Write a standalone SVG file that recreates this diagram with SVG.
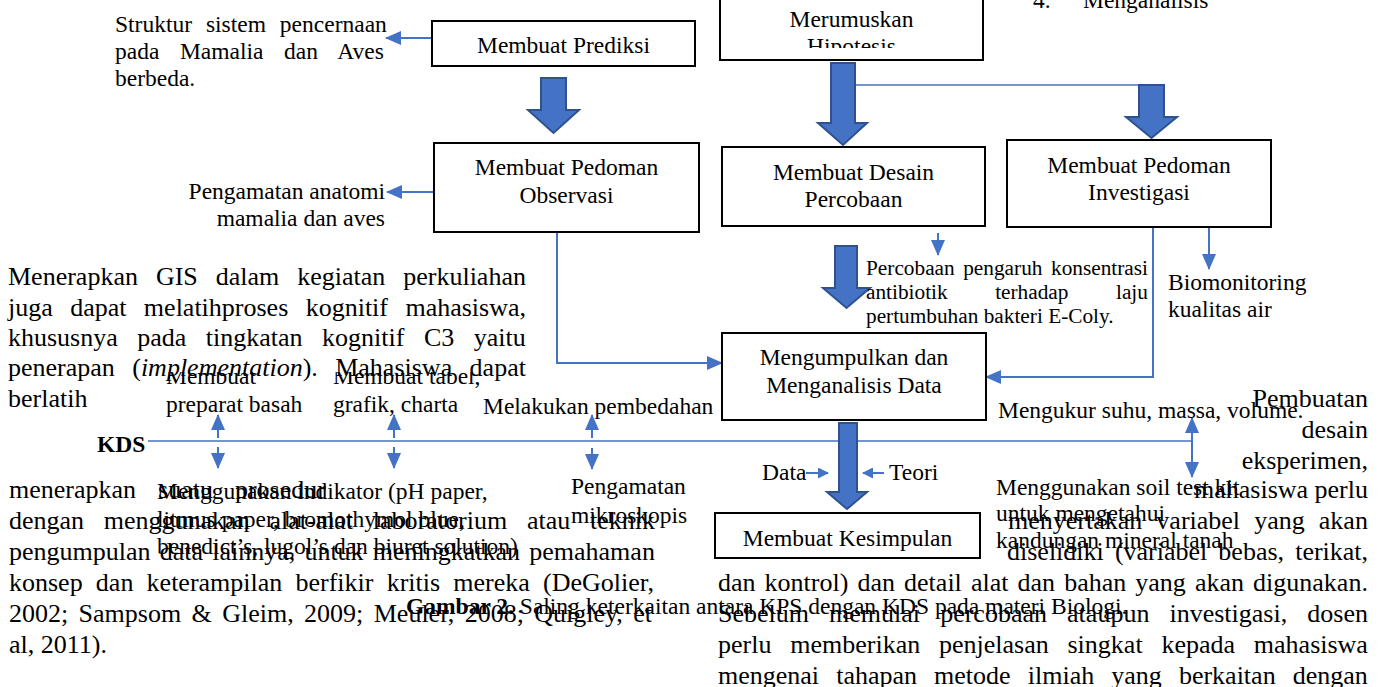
<svg xmlns="http://www.w3.org/2000/svg" width="1388" height="687" viewBox="0 0 1388 687">
<defs>
<style>
text{font-family:"Liberation Serif","Times New Roman",serif;fill:#000}
.b{font-size:26px}
.l{font-size:23.5px}
.s{font-size:21.3px}
.m{text-anchor:middle}
.e{text-anchor:end}
.box{fill:#fff;stroke:#000;stroke-width:2}
.blk{fill:#4472C4;stroke:#2F528F;stroke-width:2}
.c{fill:none;stroke:#4472C4;stroke-width:2}
.thin{fill:none;stroke:#4472C4;stroke-width:1.5}
.ah{marker-end:url(#ah)}
.ahs{marker-end:url(#ahs)}
</style>
<marker id="ah" markerUnits="userSpaceOnUse" markerWidth="16" markerHeight="14" refX="15" refY="7" orient="auto-start-reverse"><path d="M0,0 L16,7 L0,14 z" fill="#4472C4"/></marker>
<marker id="ahs" markerUnits="userSpaceOnUse" markerWidth="11" markerHeight="11" refX="10" refY="5.5" orient="auto"><path d="M0,0 L11,5.5 L0,11 z" fill="#4472C4"/></marker>
<clipPath id="clipHip"><rect x="700" y="0" width="300" height="48"/></clipPath>
<clipPath id="clipMb"><rect x="150" y="372" width="360" height="60"/></clipPath>
</defs>
<rect width="1388" height="687" fill="#fff"/>

<g id="body-text">
<text class="b" x="8" y="285" word-spacing="11.45">Menerapkan GIS dalam kegiatan perkuliahan</text>
<text class="b" x="8" y="316" word-spacing="10.9">juga dapat melatihproses kognitif mahasiswa,</text>
<text class="b" x="8" y="346" word-spacing="13">khususnya pada tingkatan kognitif C3 yaitu</text>
<text class="b" x="8" y="376" word-spacing="10.9">penerapan (<tspan font-style="italic">implementation</tspan>). Mahasiswa dapat</text>
<text class="b" x="8" y="407">berlatih</text>
<text class="b" x="9" y="498" word-spacing="15.5">menerapkan suatu prosedur</text>
<text class="b" x="9" y="529" word-spacing="13.24">dengan menggunakan alat-alat laboratorium atau teknik</text>
<text class="b" x="9" y="560" word-spacing="2.68">pengumpulan data lainnya, untuk meningkatkan pemahaman</text>
<text class="b" x="9" y="591" word-spacing="6.7">konsep dan keterampilan berfikir kritis mereka (DeGolier,</text>
<text class="b" x="9" y="622" word-spacing="3.9">2002; Sampsom &amp; Gleim, 2009; Meuler, 2008; Quigley, et</text>
<text class="b" x="9" y="653">al, 2011).</text>
<text class="b e" x="1368" y="407">Pembuatan</text>
<text class="b e" x="1368" y="438">desain</text>
<text class="b e" x="1368" y="469">eksperimen,</text>
<text class="b e" x="1368" y="498">mahasiswa perlu</text>
<text class="b" x="1008" y="529" word-spacing="7.6">menyertakan variabel yang akan</text>
<text class="b" x="1007" y="560" word-spacing="4.6">diselidiki (variabel bebas, terikat,</text>
<text class="b" x="718" y="591" word-spacing="2.58">dan kontrol) dan detail alat dan bahan yang akan digunakan.</text>
<text class="b" x="718" y="622" word-spacing="13.6">Sebelum memulai percobaan ataupun investigasi, dosen</text>
<text class="b" x="718" y="653" word-spacing="12.3">perlu memberikan penjelasan singkat kepada mahasiswa</text>
<text class="b" x="718" y="684" word-spacing="10.6">mengenai tahapan metode ilmiah yang berkaitan dengan</text>
<text class="l" x="1033" y="8">4.</text>
<text class="l" x="1083" y="8">Menganalisis</text>
</g>

<g id="connectors">
<line x1="433" y1="38" x2="386" y2="38" class="c ah"/>
<line x1="434" y1="192" x2="387" y2="192" class="c ah"/>
<line x1="855" y1="85" x2="1140" y2="85" class="thin"/>
<polyline points="557,232 557,363 722,363" class="c ah"/>
<line x1="938" y1="233" x2="938" y2="255" class="c ah"/>
<polyline points="1153,227 1153,377 986,377" class="c ah"/>
<line x1="1209" y1="227" x2="1209" y2="269" class="c ah"/>
<line x1="148" y1="441" x2="1192" y2="441" class="thin"/>
<line x1="1192" y1="418" x2="1192" y2="477" class="c" marker-start="url(#ah)" marker-end="url(#ah)"/>
<line x1="218" y1="438" x2="218" y2="415" class="c ah"/>
<line x1="218" y1="447" x2="218" y2="468" class="c ah"/>
<line x1="394" y1="438" x2="394" y2="415" class="c ah"/>
<line x1="394" y1="447" x2="394" y2="468" class="c ah"/>
<line x1="592" y1="438" x2="592" y2="415" class="c ah"/>
<line x1="592" y1="448" x2="592" y2="469" class="c ah"/>
<line x1="806" y1="473" x2="828" y2="473" class="c ahs"/>
<line x1="884" y1="473" x2="863" y2="473" class="c ahs"/>
<polygon class="blk" points="541,78 566,78 566,110 579,110 553.5,133 528,110 541,110"/>
<polygon class="blk" points="831,63 855,63 855,123 867,123 843,145 818,123 831,123"/>
<polygon class="blk" points="1139,85 1164,85 1164,117 1177,117 1151.5,138 1126,117 1139,117"/>
<polygon class="blk" points="835,246 857,246 857,288 870,288 846.5,308 823,288 835,288"/>
<polygon class="blk" points="839,423 857,423 857,492 867,492 847,509 827,492 839,492"/>
</g>

<g id="n-struktur">
<text class="l" x="115" y="32" word-spacing="8">Struktur sistem pencernaan</text>
<text class="l" x="115" y="59" word-spacing="14.7">pada Mamalia dan Aves</text>
<text class="l" x="115" y="86">berbeda.</text>
</g>
<g id="n-prediksi">
<rect class="box" x="432" y="21" width="263" height="45"/>
<text class="l m" x="563.5" y="53">Membuat Prediksi</text>
</g>
<g id="n-hipotesis">
<rect class="box" x="720" y="-5" width="263" height="65"/>
<text class="l m" x="851.5" y="27">Merumuskan</text>
<text class="l m" x="851.5" y="54" clip-path="url(#clipHip)">Hipotesis</text>
</g>
<g id="n-observasi">
<rect class="box" x="434" y="143" width="265" height="89"/>
<text class="l m" x="566.5" y="175">Membuat Pedoman</text>
<text class="l m" x="566.5" y="203">Observasi</text>
</g>
<g id="n-anatomi">
<text class="l e" x="385" y="199">Pengamatan anatomi</text>
<text class="l e" x="385" y="226">mamalia dan aves</text>
</g>
<g id="n-desain">
<rect class="box" x="722" y="147" width="263" height="79"/>
<text class="l m" x="853.5" y="180">Membuat Desain</text>
<text class="l m" x="853.5" y="207">Percobaan</text>
</g>
<g id="n-investigasi">
<rect class="box" x="1007" y="140" width="264" height="87"/>
<text class="l m" x="1139" y="173">Membuat Pedoman</text>
<text class="l m" x="1139" y="200">Investigasi</text>
</g>
<g id="n-percobaan">
<text class="s" x="866" y="275" word-spacing="3.2">Percobaan pengaruh konsentrasi</text>
<text class="s" x="866" y="299" word-spacing="42.2">antibiotik terhadap laju</text>
<text class="s" x="866" y="323">pertumbuhan bakteri E-Coly.</text>
</g>
<g id="n-biomonitoring">
<text class="l" x="1168" y="290">Biomonitoring</text>
<text class="l" x="1168" y="317">kualitas air</text>
</g>
<g id="n-mengumpulkan">
<rect class="box" x="722" y="333" width="264" height="87"/>
<text class="l m" x="854" y="365">Mengumpulkan dan</text>
<text class="l m" x="854" y="393">Menganalisis Data</text>
</g>
<g id="n-kesimpulan">
<rect class="box" x="715" y="513" width="265" height="45"/>
<text class="l m" x="847.5" y="546">Membuat Kesimpulan</text>
</g>
<g id="n-kds">
<text class="l" font-weight="bold" x="97" y="452">KDS</text>
</g>
<g id="n-preparat">
<text class="l" x="166" y="384" clip-path="url(#clipMb)">Membuat</text>
<text class="l" x="166" y="412">preparat basah</text>
</g>
<g id="n-tabel">
<text class="l" x="333" y="384" clip-path="url(#clipMb)">Membuat tabel,</text>
<text class="l" x="333" y="412">grafik, charta</text>
</g>
<g id="n-pembedahan">
<text class="l" x="483" y="414">Melakukan pembedahan</text>
</g>
<g id="n-mengukur">
<text class="l" x="998" y="418">Mengukur suhu, massa, volume.</text>
</g>
<g id="n-indikator">
<text class="l" x="157" y="499">Menggunakan indikator (pH paper,</text>
<text class="l" x="157" y="527">litmus paper, bromothymol blue,</text>
<text class="l" x="157" y="554">benedict’s, lugol’s dan biuret solution)</text>
</g>
<g id="n-mikroskopis">
<text class="l" x="571" y="494">Pengamatan</text>
<text class="l" x="571" y="523">mikroskopis</text>
</g>
<g id="n-data">
<text class="l" x="762" y="480">Data</text>
</g>
<g id="n-teori">
<text class="l" x="889" y="480">Teori</text>
</g>
<g id="n-soil">
<text class="l" x="996" y="495">Menggunakan soil test kit</text>
<text class="l" x="996" y="521">untuk mengetahui</text>
<text class="l" x="996" y="548">kandungan mineral tanah</text>
</g>
<g id="caption">
<text class="l" x="406" y="614"><tspan font-weight="bold">Gambar 2.</tspan> Saling keterkaitan antara KPS dengan KDS pada materi Biologi.</text>
</g>
</svg>
